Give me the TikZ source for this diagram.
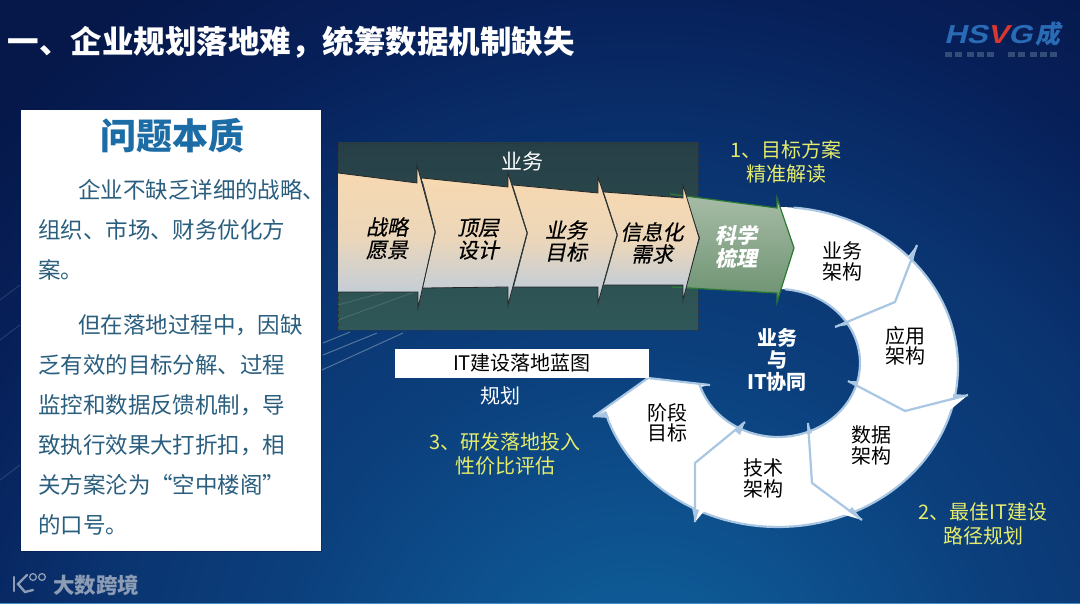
\documentclass[tikz,border=0pt]{standalone}
\usepackage{fontspec}
\setmainfont{Noto Sans CJK SC}
\newfontfamily\cjkit[FakeSlant=0.2,FakeBold=0.4]{Noto Sans CJK SC}
\newfontfamily\cjkitb[BoldFeatures={FakeSlant=0.2}]{Noto Sans CJK SC}
\newfontfamily\logofont[BoldFeatures={FakeSlant=0.25,FakeStretch=1.2}]{Liberation Sans}
\usetikzlibrary{calc}
\definecolor{bga}{HTML}{0F66A2}
\definecolor{bgb}{HTML}{0B3F7C}
\definecolor{bgc}{HTML}{0A3470}
\definecolor{bgd}{HTML}{07205A}
\definecolor{bge}{HTML}{06184A}
\pgfdeclareradialshading{bgrad}{\pgfpointorigin}{color(0bp)=(bga); color(8.5bp)=(bgb); color(12.5bp)=(bgc); color(16.5bp)=(bgd); color(20bp)=(bge); color(100bp)=(bge)}
\definecolor{ringedge}{HTML}{A9C6E2}
\definecolor{peach}{HTML}{F8D9B0}
\definecolor{cool}{HTML}{B9CBDF}
\definecolor{gtop}{HTML}{A6BBA6}
\definecolor{gbot}{HTML}{6C9270}
\definecolor{gedge}{HTML}{2C7A34}
\definecolor{yel}{HTML}{E6EC6A}
\definecolor{ttl}{HTML}{1C6CA6}
\definecolor{body}{HTML}{2A5E7E}
\definecolor{boxtop}{HTML}{263F46}
\definecolor{boxbot}{HTML}{305858}
\definecolor{wm}{HTML}{8C9CB4}
\definecolor{logob}{HTML}{2A6BB5}
\definecolor{logor}{HTML}{D8382E}
\definecolor{logosub}{HTML}{324E78}
\definecolor{bottomline}{HTML}{4A8CC4}
\tikzset{
  x=1pt,y=-1pt,
  every node/.style={inner sep=0pt,outer sep=0pt,align=center},
  bodytext/.style={anchor=west,text=body,font=\fontsize{22.5}{24}\selectfont},
  ringtext/.style={text=black,font=\fontsize{20}{22}\selectfont},
  chevtext/.style={text=black,font=\cjkit\fontsize{21}{23}\selectfont},
  greentext/.style={text=white,font=\cjkitb\bfseries\fontsize{21}{23}\selectfont},
  yeltext/.style={text=yel,font=\fontsize{20}{22}\selectfont},
  chev/.style={top color=peach,bottom color=cool,middle color=peach!80!cool},
  headline/.style={draw=black!85,line width=.8pt,line join=miter},
  sep/.style={draw=ringedge,line width=2.2pt,line join=round},
  streak/.style={draw=white,opacity=.12,line width=1pt},
}
\begin{document}
\begin{tikzpicture}
\useasboundingbox (0,0) rectangle (1080,604);
% background
\begin{scope}
\clip (0,0) rectangle (1080,604);
\shade[shading=bgrad] (640,720) circle (1100);
\end{scope}
\draw[streak] (0,300) -- (20,285);
\draw[streak] (0,340) -- (20,325);
\draw[streak] (0,480) -- (20,465);
\draw[streak,opacity=.3] (322,370) -- (403,333);
\draw[streak,opacity=.3] (323,355) -- (377,333);
\draw[streak,opacity=.3] (323,343) -- (350,332);
\draw[bottomline,line width=1pt] (0,603.5) -- (1080,603.5);
% dark panel behind the chevrons
\shade[top color=boxtop,bottom color=boxbot] (338,143) rectangle (698,330);
\draw[streak] (338,320) -- (420,290);
\draw[streak] (338,305) -- (385,292);
\draw[black!80,line width=.9pt,dashed] (338,143) rectangle (698,330);
% ring
\fill[white]
  plot[domain=90:-163,samples=90] ({778+180*cos(\x)},{367-160*sin(\x)})
  -- (593,417) -- (648,378) -- (710,385) -- (700,387)
  -- plot[domain=197:450,samples=90] ({778+82*cos(\x)},{363-74*sin(\x)}) -- cycle;
\draw[ringedge,line width=2.2pt]
  plot[domain=85:-163,samples=90] ({778+180*cos(\x)},{367-160*sin(\x)});
\draw[ringedge,line width=2.2pt]
  plot[domain=197:445,samples=90] ({778+82*cos(\x)},{363-74*sin(\x)});
\fill[white] (904,262) -- (917,245) -- (895,302) -- cycle;
\fill[white] (905,411) -- (968,395) -- (950,410) -- cycle;
\fill[white] (812,483) -- (862,520) -- (845,515) -- cycle;
\fill[white] (695,463) -- (695,522) -- (705,510) -- cycle;
\draw[sep] (835,327) -- (895,302) -- (917,245);
\draw[sep] (848,381) -- (905,411) -- (968,395);
\draw[sep] (808,423) -- (812,483) -- (862,520);
\draw[sep] (745,422) -- (695,463) -- (695,522);
\draw[sep] (710,385) -- (648,378) -- (593,417);
% tapered tips
\fill[ringedge] (917,245) -- (908,258) -- (913,262) -- cycle;
\fill[ringedge] (968,395) -- (953,394) -- (953,400) -- cycle;
\fill[ringedge] (862,520) -- (848,511) -- (852,507) -- cycle;
\fill[ringedge] (695,522) -- (692,508) -- (699,510) -- cycle;
\fill[ringedge] (593,417) -- (609,418) -- (606,411) -- cycle;
\fill[ringedge] (835,327) -- (846,321) -- (848,325) -- cycle;
\fill[ringedge] (848,381) -- (858,381) -- (857,387) -- cycle;
\fill[ringedge] (808,423) -- (807,434) -- (812,433) -- cycle;
\fill[ringedge] (745,422) -- (735,431) -- (740,435) -- cycle;
% green arrow
\path[top color=gtop,bottom color=gbot] (686,196) -- (777,208) -- (777,198) -- (794,248) -- (777,302) -- (777,293) -- (686,288) -- (700,238) -- cycle;
\draw[gedge,line width=1.2pt] (670,194) -- (777,208) -- (777,198) -- (794,248) -- (777,302) -- (777,293) -- (672,287);
% chevrons
\path[chev] (338,173) -- (417,183) -- (417,165) -- (435,232) -- (418,308) -- (418,292) -- (338,292) -- cycle;
\path[chev] (422,178) -- (508,187) -- (508,173) -- (527,233) -- (508,305) -- (508,287) -- (423,288) -- (436,232) -- cycle;
\path[chev] (513,185) -- (598,193) -- (598,177) -- (617,235) -- (598,303) -- (598,287) -- (514,287) -- (528,233) -- cycle;
\path[chev] (604,192) -- (683,198) -- (683,185) -- (699,238) -- (683,300) -- (683,285) -- (604,285) -- (618,235) -- cycle;
\draw[headline] (338,173) -- (417,183) -- (417,165) -- (435,232) -- (418,308) -- (418,292) -- (338,292);
\draw[headline] (422,178) -- (508,187) -- (508,173) -- (527,233) -- (508,305) -- (508,287) -- (423,288);
\draw[headline] (513,185) -- (598,193) -- (598,177) -- (617,235) -- (598,303) -- (598,287) -- (514,287);
\draw[headline] (604,192) -- (683,198) -- (683,185) -- (699,238) -- (683,300) -- (683,285) -- (604,285);
% title
\node[anchor=west,text=white,font=\bfseries\fontsize{31.5}{34}\selectfont] (title) at (8,42) {一、企业规划落地难，统筹数据机制缺失};
% logo
\node[anchor=west,text=logob,font=\logofont\bfseries\fontsize{26}{28}\selectfont] (logoa) at (944,35) {HS\textcolor{logor}{V}G};
\node[anchor=west,text=logob,font=\cjkitb\bfseries\fontsize{25}{27}\selectfont] (logod) at (1035,34) {成};
\foreach \mx in {945,955,967,977,987,1008,1018,1030,1040,1050}
  \fill[logosub] (\mx,52) rectangle ++(7,5);
% left panel
\draw[bge,line width=1.4pt,opacity=.4] (21,110) rectangle (321,551);
\fill[white] (21,110) rectangle (321,551);
\node[text=ttl,font=\bfseries\fontsize{36}{38}\selectfont] (ptitle) at (172,136) {问题本质};
\node[bodytext] (l1) at (78,190) {企业不缺乏详细的战略、};
\node[bodytext] (l2) at (38,230) {组织、市场、财务优化方};
\node[bodytext] (l3) at (38,270) {案。};
\node[bodytext] (l4) at (78,325) {但在落地过程中，因缺};
\node[bodytext] (l5) at (38,365) {乏有效的目标分解、过程};
\node[bodytext] (l6) at (38,405) {监控和数据反馈机制，导};
\node[bodytext] (l7) at (38,445) {致执行效果大打折扣，相};
\node[bodytext] (l8) at (38,485) {关方案沦为“空中楼阁”};
\node[bodytext] (l9) at (38,525) {的口号。};
% bar and labels
\fill[white] (395,349) rectangle (649,378);
\node[text=black,font=\fontsize{20}{22}\selectfont] (bar) at (522,363) {IT建设落地蓝图};
\node[text=white,font=\fontsize{20}{22}\selectfont] (plan) at (500,396) {规划};
\node[text=white,font=\fontsize{21}{23}\selectfont] (biz) at (522,161) {业务};
\node[yeltext] (y1a) at (786,150) {1、目标方案};
\node[yeltext] (y1b) at (786,174) {精准解读};
\node[yeltext] (y2a) at (983,512) {2、最佳IT建设};
\node[yeltext] (y2b) at (983,536) {路径规划};
\node[yeltext] (y3a) at (505,442) {3、研发落地投入};
\node[yeltext] (y3b) at (505,466) {性价比评估};
% chevron labels
\node[chevtext] (c1a) at (387,227) {战略};
\node[chevtext] (c1b) at (387,250) {愿景};
\node[chevtext] (c2a) at (478,228) {顶层};
\node[chevtext] (c2b) at (478,250) {设计};
\node[chevtext] (c3a) at (566,230) {业务};
\node[chevtext] (c3b) at (566,252) {目标};
\node[chevtext] (c4a) at (652,232) {信息化};
\node[chevtext] (c4b) at (652,254) {需求};
\node[greentext] (g1) at (736,235) {科学};
\node[greentext] (g2) at (736,258) {梳理};
% ring labels
\node[ringtext] (r1a) at (842,251) {业务};
\node[ringtext] (r1b) at (842,272) {架构};
\node[ringtext] (r2a) at (905,336) {应用};
\node[ringtext] (r2b) at (905,356) {架构};
\node[ringtext] (r3a) at (871,435) {数据};
\node[ringtext] (r3b) at (871,456) {架构};
\node[ringtext] (r4a) at (763,468) {技术};
\node[ringtext] (r4b) at (763,489) {架构};
\node[ringtext] (r5a) at (667,413) {阶段};
\node[ringtext] (r5b) at (667,433) {目标};
% centre
\node[text=white,font=\bfseries\fontsize{20}{22}\selectfont] (m1) at (777,338) {业务};
\node[text=white,font=\bfseries\fontsize{20}{22}\selectfont] (m2) at (777,360) {与};
\node[text=white,font=\bfseries\fontsize{20}{22}\selectfont] (m3) at (777,382) {IT协同};
% watermark
\node[anchor=west,text=wm,font=\bfseries\fontsize{21.5}{23}\selectfont] (wm1) at (53,585) {大数跨境};
\draw[wm,line width=2.6pt,line cap=round] (14,577) -- (14,591);
\draw[wm,line width=2.4pt,line cap=round] (27,575) -- (18,584) -- (25,592) -- (33,590);
\draw[wm,line width=1.3pt] (33,577) circle (3.4);
\draw[wm,line width=1.3pt] (42,577) circle (3.4);
\end{tikzpicture}
\end{document}
